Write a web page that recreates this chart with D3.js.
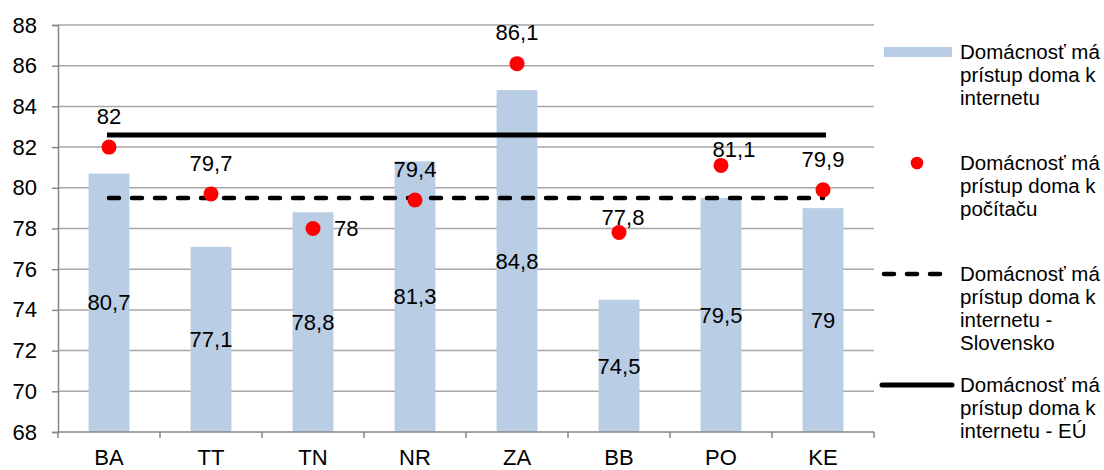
<!DOCTYPE html>
<html><head><meta charset="utf-8">
<script src="https://cdn.jsdelivr.net/npm/d3@7"></script>
<style>
html,body{margin:0;padding:0;background:#fff;}
svg{display:block;font-family:"Liberation Sans",Arial,sans-serif;}
</style></head>
<body>
<svg id="c" width="1104" height="470"></svg>
<script>
const categories = ["BA","TT","TN","NR","ZA","BB","PO","KE"];
const internetValues = [80.7,77.1,78.8,81.3,84.8,74.5,79.5,79];
const computerValues = [82,79.7,78,79.4,86.1,77.8,81.1,79.9];
const slovakiaValue = 79.5;
const euValue = 82.6;
const yTicks = [68,70,72,74,76,78,80,82,84,86,88];
const legendLabels = [
  ["Domácnosť má","prístup doma k","internetu"],
  ["Domácnosť má","prístup doma k","počítaču"],
  ["Domácnosť má","prístup doma k","internetu -","Slovensko"],
  ["Domácnosť má","prístup doma k","internetu - EÚ"]
];
// label placement for dot labels (dx, dy, anchor)
const dotLabelPos = [
  [0,-31,"middle"],[0,-31,"middle"],[21,0,"start"],[0,-31,"middle"],
  [0,-31,"middle"],[4,-15,"middle"],[13,-16,"middle"],[0,-31,"middle"]
];

(function(){
const svg = d3.select("#c");
const pLeft = 58, pRight = 874, pTop = 25, pBottom = 432;
const x = d3.scaleBand().domain(categories).range([pLeft,pRight]).padding(0);
const y = d3.scaleLinear().domain([68,88]).range([pBottom,pTop]);
const fmt = v => String(v).replace(".", ",");
const FS = 22;

// gridlines
svg.append("g").selectAll("line").data(yTicks.filter(t=>t>68)).join("line")
  .attr("x1",pLeft).attr("x2",pRight).attr("y1",d=>y(d)).attr("y2",d=>y(d))
  .attr("stroke","#a6a6a6").attr("stroke-width",1.5);

// bars
const bw = x.bandwidth()*0.4;
svg.append("g").selectAll("rect").data(internetValues).join("rect")
  .attr("x",(d,i)=>x(categories[i])+x.bandwidth()/2-bw/2)
  .attr("width",bw)
  .attr("y",d=>y(d)).attr("height",d=>pBottom-y(d))
  .attr("fill","#b9cde5");

// y axis
const yAxis = d3.axisLeft(y).tickValues(yTicks).tickSize(6).tickPadding(15).tickFormat(d=>d);
const ya = svg.append("g").attr("transform",`translate(${pLeft},0)`).call(yAxis);
ya.select(".domain").attr("stroke","#868686").attr("stroke-width",1.5);
ya.selectAll(".tick line").attr("stroke","#868686").attr("stroke-width",1.5);
ya.selectAll("text").attr("font-size",FS).attr("fill","#000").attr("font-family","Liberation Sans, Arial, sans-serif");

// x axis
const xa = svg.append("g").attr("transform",`translate(0,${pBottom})`);
xa.append("line").attr("x1",pLeft).attr("x2",pRight).attr("stroke","#868686").attr("stroke-width",1.5);
const bounds = d3.range(categories.length+1).map(i=>pLeft+i*x.step());
xa.selectAll("line.t").data(bounds).join("line").attr("class","t")
  .attr("x1",d=>d).attr("x2",d=>d).attr("y1",0).attr("y2",6)
  .attr("stroke","#868686").attr("stroke-width",1.5);
xa.selectAll("text").data(categories).join("text")
  .attr("x",d=>x(d)+x.bandwidth()/2).attr("y",33)
  .attr("text-anchor","middle").attr("font-size",FS).attr("fill","#000").text(d=>d);

// Slovakia dashed line
const cx0 = x(categories[0])+x.bandwidth()/2;
const cx1 = x(categories[categories.length-1])+x.bandwidth()/2;
svg.append("line").attr("x1",cx0).attr("x2",cx1).attr("y1",y(slovakiaValue)).attr("y2",y(slovakiaValue))
  .attr("stroke","#000").attr("stroke-width",4.5).attr("stroke-dasharray","10,13").attr("stroke-linecap","round");
// EU line
svg.append("line").attr("x1",cx0-2).attr("x2",cx1+3).attr("y1",y(euValue)).attr("y2",y(euValue))
  .attr("stroke","#000").attr("stroke-width",5);

// bar labels
svg.append("g").selectAll("text").data(internetValues).join("text")
  .attr("x",(d,i)=>x(categories[i])+x.bandwidth()/2)
  .attr("y",d=>(y(d)+pBottom)/2).attr("dy","0.35em")
  .attr("text-anchor","middle").attr("font-size",FS).attr("fill","#000").text(fmt);

// dots
svg.append("g").selectAll("circle").data(computerValues).join("circle")
  .attr("cx",(d,i)=>x(categories[i])+x.bandwidth()/2).attr("cy",d=>y(d)).attr("r",7.5).attr("fill","#ff0000");
svg.append("g").selectAll("text").data(computerValues).join("text")
  .attr("x",(d,i)=>x(categories[i])+x.bandwidth()/2+dotLabelPos[i][0])
  .attr("y",(d,i)=>y(d)+dotLabelPos[i][1]).attr("dy","0.35em")
  .attr("text-anchor",(d,i)=>dotLabelPos[i][2]).attr("font-size",FS).attr("fill","#000").text(fmt);

// legend
const lg = svg.append("g");
const entryY = [52,163,274,385];
lg.append("rect").attr("x",884).attr("y",entryY[0]-5).attr("width",68).attr("height",10).attr("fill","#b9cde5");
lg.append("circle").attr("cx",917).attr("cy",entryY[1]).attr("r",6.3).attr("fill","#ff0000");
lg.append("line").attr("x1",884).attr("x2",945).attr("y1",entryY[2]).attr("y2",entryY[2])
  .attr("stroke","#000").attr("stroke-width",4.5).attr("stroke-dasharray","10,13").attr("stroke-linecap","round");
lg.append("line").attr("x1",882).attr("x2",952).attr("y1",entryY[3]).attr("y2",entryY[3])
  .attr("stroke","#000").attr("stroke-width",5).attr("stroke-linecap","round");
legendLabels.forEach((lines,i)=>{
  const t = lg.append("text").attr("font-size",20.5).attr("fill","#000");
  lines.forEach((l,j)=>{
    t.append("tspan").attr("x",960).attr("y",entryY[i]+j*23).attr("dy","0.35em").text(l);
  });
});
})();
</script>
</body></html>
